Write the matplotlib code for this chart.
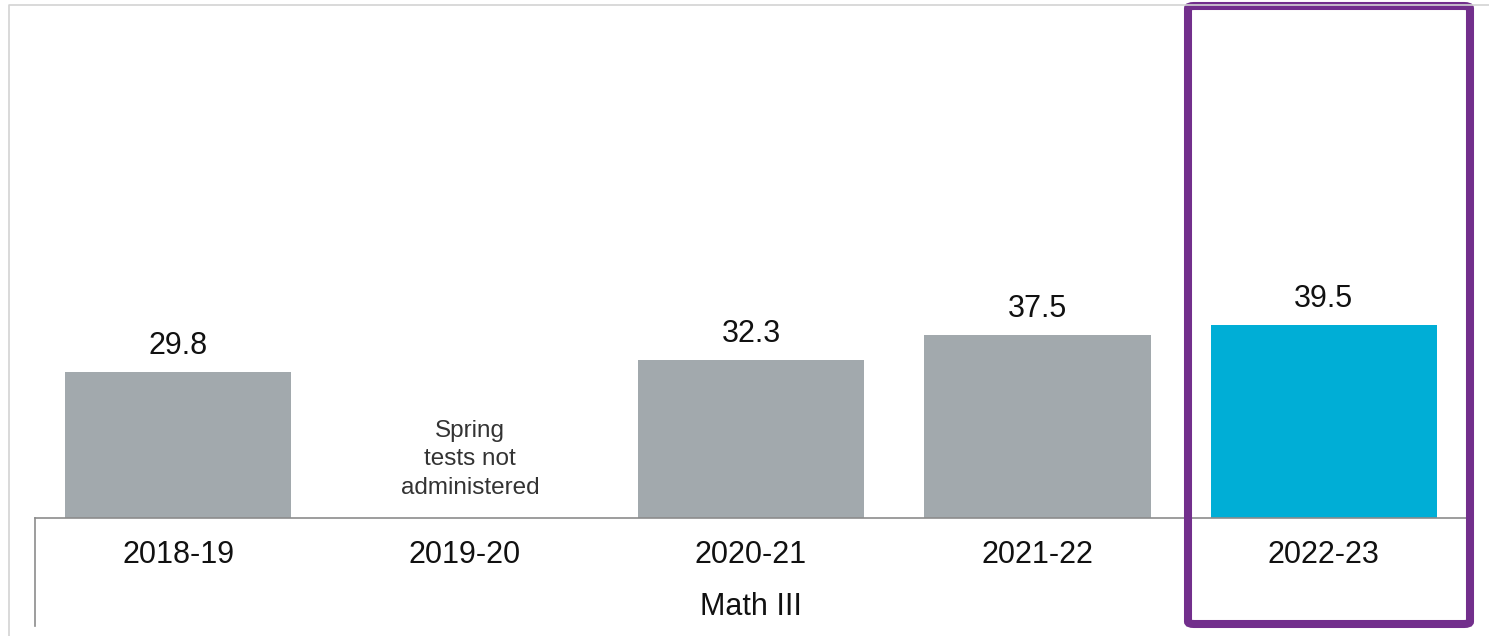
import numpy as np
import matplotlib.pyplot as plt
from matplotlib.lines import Line2D
from matplotlib.patches import FancyBboxPatch

plt.rcParams['font.family'] = ['Liberation Sans', 'DejaVu Sans']

years = ['2018-19', '2019-20', '2020-21', '2021-22', '2022-23']
scores = [29.8, np.nan, 32.3, 37.5, 39.5]
bar_colors = ['#A2A9AD', '#A2A9AD', '#A2A9AD', '#A2A9AD', '#00AED6']
subject = 'Math III'
missing_note = 'Spring\ntests not\nadministered'

W, H = 1489, 636
fig = plt.figure(figsize=(W / 100, H / 100), dpi=100)

# axes placed in pixel terms of the reference
ax = fig.add_axes([35 / W, (H - 518) / H, 1432 / W, 513 / H])
x = np.arange(len(years))
ax.bar(x, np.nan_to_num(scores), width=0.79, color=bar_colors, edgecolor='none')
for xi, v in zip(x, scores):
    if np.isnan(v):
        ax.text(xi + 0.02, 12, missing_note, ha='center', va='center', fontsize=17.5,
                color='#333333', linespacing=1.4)
    else:
        ax.annotate(f'{v:.1f}', (xi, v), xytext=(0, 8), textcoords='offset points',
                    ha='center', va='bottom', fontsize=22, color='#111111')

ax.set_xlim(-0.5, 4.5)
ax.set_ylim(0, 105)
ax.set_yticks([])
ax.set_xticks(x)
ax.set_xticklabels(years, fontsize=22, color='#111111')
ax.tick_params(axis='x', length=0, pad=16)
for s in ['top', 'right', 'left']:
    ax.spines[s].set_visible(False)
ax.spines['bottom'].set_color('#8C8C8C')
ax.spines['bottom'].set_linewidth(1.2)

fig.text(751 / W, 1 - 607 / H, subject, ha='center', va='center', fontsize=22, color='#111111')

# left axis stub under the baseline
fig.add_artist(Line2D([35 / W, 35 / W], [1 - 518 / H, 1 - 626 / H], transform=fig.transFigure,
                      color='#8C8C8C', linewidth=1.2))
# light outer frame
fig.add_artist(Line2D([9 / W, 9 / W, 1.0], [0.0, 1 - 5 / H, 1 - 5 / H], transform=fig.transFigure,
                      color='#D3D3D3', linewidth=1.2))

# highlight box around latest year
box = FancyBboxPatch((1188 / W, 1 - 624 / H), 282 / W, 618 / H,
                     boxstyle='round,pad=0,rounding_size=0.004', transform=fig.transFigure,
                     fill=False, edgecolor='#722F8C', linewidth=5.8)
fig.add_artist(box)

fig.savefig('out.png', dpi=100)
